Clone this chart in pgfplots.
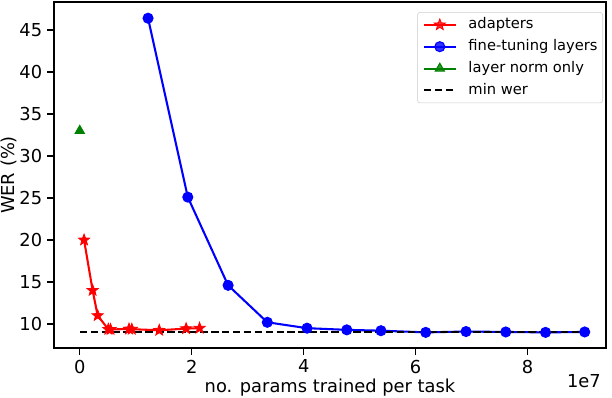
\documentclass[border=0pt]{standalone}
\usepackage{fontspec}
\setmainfont{DejaVu Sans}
\usepackage{pgfplots}
\pgfplotsset{compat=1.18}
\definecolor{mplgreen}{rgb}{0,0.5,0}
\newcommand{\fs}{\fontsize{12.9pt}{15.5pt}\selectfont}
\newcommand{\lfs}{\fontsize{10.6pt}{12.7pt}\selectfont}
\pgfdeclareplotmark{fstar}{%
  \pgfpathmoveto{\pgfpointpolar{90}{\pgfplotmarksize}}%
  \pgfpathlineto{\pgfpointpolar{126}{0.42\pgfplotmarksize}}%
  \pgfpathlineto{\pgfpointpolar{162}{\pgfplotmarksize}}%
  \pgfpathlineto{\pgfpointpolar{198}{0.42\pgfplotmarksize}}%
  \pgfpathlineto{\pgfpointpolar{234}{\pgfplotmarksize}}%
  \pgfpathlineto{\pgfpointpolar{270}{0.42\pgfplotmarksize}}%
  \pgfpathlineto{\pgfpointpolar{306}{\pgfplotmarksize}}%
  \pgfpathlineto{\pgfpointpolar{342}{0.42\pgfplotmarksize}}%
  \pgfpathlineto{\pgfpointpolar{18}{\pgfplotmarksize}}%
  \pgfpathlineto{\pgfpointpolar{54}{0.42\pgfplotmarksize}}%
  \pgfpathclose
  \pgfusepathqfillstroke}
\begin{document}
\begin{tikzpicture}
\begin{axis}[
  scale only axis,
  width=5.52in, height=3.46in,
  at={(0,0)}, anchor=south west,
  xmin=-0.46, xmax=9.4,
  ymin=7.14, ymax=48.33,
  xtick={0,2,4,6,8},
  ytick={10,15,20,25,30,35,40,45},
  tick align=outside,
  xtick pos=left, ytick pos=left,
  major tick length=5pt,
  tick style={black, line width=0.8pt},
  axis line style={line width=0.8pt},
  /pgf/number format/assume math mode=true,
  ticklabel style={font=\fs},
  label style={font=\fs},
  xlabel={no. params trained per task},
  ylabel={WER (\%)},
  xlabel style={at={(axis description cs:0.5,-0.130)}, anchor=base},
  ylabel style={at={(axis description cs:-0.0716,0.5)}, anchor=base},
  legend style={at={(0.9946,0.971)}, anchor=north east,
    draw=black!20, rounded corners=2pt, fill=white, fill opacity=0.8, text opacity=1,
    font=\lfs, row sep=5.3pt, inner sep=3.8pt,
    nodes={inner sep=0pt, text height=8pt, text depth=2.5pt},
    /tikz/every odd column/.append style={column sep=8.4pt}},
  legend cell align=left,
  legend image code/.code={
    \draw[mark repeat=2,mark phase=2,#1] plot coordinates {(0cm,0cm) (0.406cm,0cm) (0.813cm,0cm)};
  },
]
\addplot[red, line width=1.5pt, mark=fstar, mark size=4.2pt, mark options={fill=red, line width=0.6pt, line join=miter}]
coordinates {
(0.077,20.0) (0.23,14.0) (0.32,11.0) (0.51,9.37) (0.55,9.35) (0.88,9.4) (0.93,9.38) (1.42,9.25) (1.90,9.45) (2.14,9.5)
};
\addlegendentry{adapters}
\addplot[blue, line width=1.5pt, mark=*, mark size=3.6pt, mark options={fill=blue, draw=blue, line width=0.8pt}]
coordinates {
(1.22,46.4) (1.93,25.1) (2.65,14.6) (3.35,10.2) (4.06,9.5) (4.77,9.3) (5.38,9.2) (6.18,9.0) (6.90,9.1) (7.61,9.05) (8.32,9.0) (9.02,9.05)
};
\addlegendentry{fine-tuning layers}
\addplot[mplgreen, line width=1.5pt, mark=triangle*, mark size=3.8pt, mark options={fill=mplgreen, line width=0.8pt}]
coordinates {(0.0,33.0)};
\addlegendentry{layer norm only}
\addplot[black, line width=1.5pt, dash pattern=on 5.5pt off 2.4pt]
coordinates {(0.0,9.0) (9.02,9.0)};
\addlegendentry{min wer}
\end{axis}
\node[anchor=base east, font=\fs, inner sep=0pt] at (5.47in,-0.40in) {1e7};
\pgfresetboundingbox
\path[use as bounding box] (-0.54in,-0.50in) rectangle (5.58in,3.48in);
\end{tikzpicture}
\end{document}
